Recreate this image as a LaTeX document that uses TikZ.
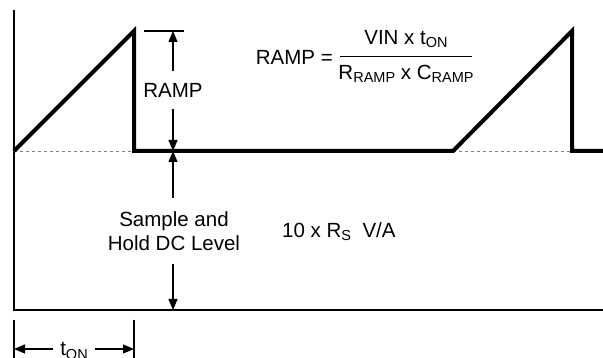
\documentclass[tikz,border=0pt]{standalone}
\usepackage{fontspec}
\setmainfont{Liberation Sans}
\usetikzlibrary{arrows.meta,positioning}
\newcommand{\lowsub}[1]{\raisebox{-0.3ex}{\fontsize{14.5}{16}\selectfont #1}}

\begin{document}
\begin{tikzpicture}[x=1pt,y=-1pt,
  lbl/.style={font=\fontsize{20.5}{23.5}\selectfont, inner sep=1pt},
  dim/.style={line width=1.2pt, -{Triangle[length=11pt,width=9pt]}},
  tick/.style={line width=1.2pt}]
\useasboundingbox (0,0) rectangle (603,358);

% axes
\draw[line width=1.7pt] (14,10) -- (14,310) -- (603,310);

% dashed base under the ramps
\draw[gray, dashed, line width=0.8pt] (14,151) -- (134,151);
\draw[gray, dashed, line width=0.8pt] (453,151) -- (572,151);

% waveform
\draw[line width=4pt, line join=miter] (14,151) -- (134,31) -- (134,151)
  -- (453,151) -- (572,31) -- (572,151) -- (603,151);

% ramp height
\draw[tick] (144,31) -- (184,31);
\coordinate (rtop) at (173,31);
\coordinate (rbase) at (173,151);
\coordinate (floor) at (173,310);
\node[lbl, inner sep=12pt] (ramplbl) at (173,90) {RAMP};
\draw[dim] (ramplbl) -- (rtop);
\draw[dim] (ramplbl) -- (rbase);

% sample and hold level
\node[lbl, align=center, inner ysep=14pt] (shlbl) at (174,231) {Sample and\\Hold DC Level};
\draw[dim] (shlbl.north -| rbase) -- (rbase);
\draw[dim] (shlbl.south -| floor) -- (floor);
\node[lbl, anchor=west] (gain) at (281,232) {10 x R\lowsub{S}\ \ V/A};

% formula
\node[lbl, anchor=east] (eqlhs) at (334,57) {RAMP =};
\node[lbl] (num) at (406,39) {VIN x t\lowsub{ON}};
\node[lbl] (den) at (406,74) {R\lowsub{RAMP} x C\lowsub{RAMP}};
\draw[line width=0.9pt] (340,56) -- (472,56);

% on time
\draw[tick] (14,320) -- (14,358);
\draw[tick] (134,320) -- (134,358);
\coordinate (ton0) at (14,349);
\coordinate (ton1) at (134,349);
\node[lbl, inner xsep=7pt] (tonlbl) at (74,351) {t\lowsub{ON}};
\draw[dim] (tonlbl.west |- ton0) -- (ton0);
\draw[dim] (tonlbl.east |- ton1) -- (ton1);
\end{tikzpicture}
\end{document}
